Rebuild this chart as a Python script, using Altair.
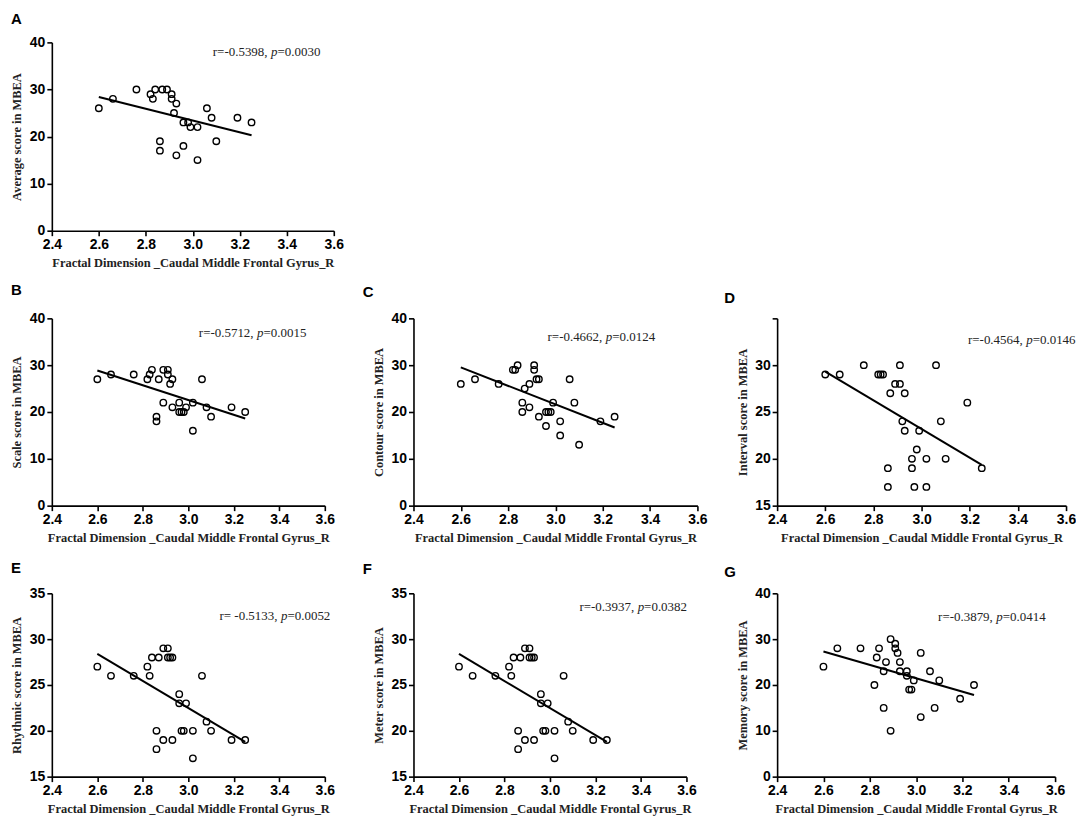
import altair as alt
import pandas as pd

XT = "Fractal Dimension _Caudal Middle Frontal Gyrus_R"
X_TICKS = [2.4, 2.6, 2.8, 3.0, 3.2, 3.4, 3.6]

# Panel A - Average score
a_x = [2.60, 2.66, 2.76, 2.82, 2.83, 2.84, 2.87, 2.89, 2.91, 2.91, 2.93, 2.92, 2.96, 2.98,
       2.99, 3.02, 3.06, 3.08, 3.10, 3.19, 3.25, 2.86, 2.86, 2.96, 2.93, 3.02]
a_y = [26, 28, 30, 29, 28, 30, 30, 30, 29, 28, 27, 25, 23, 23,
       22, 22, 26, 24, 19, 24, 23, 19, 17, 18, 16, 15]

# Panel B - Scale score
b_x = [2.60, 2.66, 2.76, 2.82, 2.83, 2.84, 2.87, 2.89, 2.91, 2.91, 2.92, 2.93, 2.89, 2.93,
       2.96, 2.96, 2.97, 2.98, 2.99, 3.02, 3.02, 3.06, 3.08, 3.10, 3.19, 3.25, 2.86, 2.86]
b_y = [27, 28, 28, 27, 28, 29, 27, 29, 29, 28, 26, 27, 22, 21,
       22, 20, 20, 20, 21, 22, 16, 27, 21, 19, 21, 20, 19, 18]

# Panel C - Contour score
c_x = [2.60, 2.66, 2.76, 2.82, 2.83, 2.84, 2.87, 2.89, 2.91, 2.91, 2.92, 2.93, 2.86, 2.86,
       2.89, 2.93, 2.96, 2.96, 2.97, 2.98, 2.99, 3.02, 3.02, 3.06, 3.08, 3.10, 3.19, 3.25]
c_y = [26, 27, 26, 29, 29, 30, 25, 26, 30, 29, 27, 27, 22, 20,
       21, 19, 17, 20, 20, 20, 22, 18, 15, 27, 22, 13, 18, 19]

# Panel D - Interval score
d_x = [2.60, 2.66, 2.76, 2.82, 2.83, 2.84, 2.86, 2.86, 2.87, 2.89, 2.91, 2.91, 2.92, 2.93,
       2.93, 2.96, 2.96, 2.97, 2.98, 2.99, 3.02, 3.02, 3.06, 3.08, 3.10, 3.19, 3.25]
d_y = [29, 29, 30, 29, 29, 29, 19, 17, 27, 28, 30, 28, 24, 27,
       23, 20, 19, 17, 21, 23, 20, 17, 30, 24, 20, 26, 19]

# Panel E - Rhythmic score
e_x = [2.60, 2.66, 2.76, 2.82, 2.83, 2.84, 2.87, 2.86, 2.86, 2.89, 2.89, 2.91, 2.91, 2.92,
       2.93, 2.93, 2.96, 2.96, 2.97, 2.98, 2.99, 3.02, 3.02, 3.06, 3.08, 3.10, 3.19, 3.25]
e_y = [27, 26, 26, 27, 26, 28, 28, 20, 18, 29, 19, 29, 28, 28,
       28, 19, 24, 23, 20, 20, 23, 20, 17, 26, 21, 20, 19, 19]

# Panel F - Meter score
f_x = [2.60, 2.66, 2.76, 2.82, 2.83, 2.84, 2.87, 2.86, 2.86, 2.89, 2.89, 2.91, 2.91, 2.92,
       2.93, 2.93, 2.96, 2.96, 2.97, 2.98, 2.99, 3.02, 3.02, 3.06, 3.08, 3.10, 3.19, 3.25]
f_y = [27, 26, 26, 27, 26, 28, 28, 20, 18, 29, 19, 29, 28, 28,
       28, 19, 24, 23, 20, 20, 23, 20, 17, 26, 21, 20, 19, 19]

# Panel G - Memory score
g_x = [2.60, 2.66, 2.76, 2.82, 2.83, 2.84, 2.86, 2.86, 2.87, 2.89, 2.89, 2.91, 2.91, 2.92,
       2.93, 2.93, 2.96, 2.96, 2.97, 2.98, 2.99, 3.02, 3.02, 3.06, 3.08, 3.10, 3.19, 3.25]
g_y = [24, 28, 28, 20, 26, 28, 23, 15, 25, 30, 10, 29, 28, 27,
       25, 23, 23, 22, 19, 19, 21, 27, 13, 23, 15, 21, 17, 20]

SERIF = "Liberation Serif"
SANS = "Liberation Sans"
FS = 13


def panel(letter, xs, ys, ytitle, ydom, yvals, r_txt, p_val, w, h, px, py,
          toff, tdx=0, hide_top=False):
    df = pd.DataFrame({"x": xs, "y": ys})
    xenc = alt.X("x:Q", scale=alt.Scale(domain=[2.4, 3.6], nice=False, zero=False),
                 axis=alt.Axis(values=X_TICKS, format=".1f", title=XT, labelFlush=False))
    yaxis_kwargs = dict(values=yvals, title=ytitle, format="d", titleX=-28)
    if hide_top:
        yaxis_kwargs["labelExpr"] = f"datum.value >= {ydom[1]} ? '' : datum.label"
    yenc = alt.Y("y:Q", scale=alt.Scale(domain=ydom, nice=False, zero=False),
                 axis=alt.Axis(**yaxis_kwargs))
    base = alt.Chart(df)
    pts = base.mark_point(shape="circle", filled=False, color="black",
                          strokeWidth=1.4, size=42, opacity=1).encode(x=xenc, y=yenc)
    line = base.transform_regression("x", "y").mark_line(
        color="black", strokeWidth=2).encode(x="x:Q", y="y:Q")
    tdf = pd.DataFrame({"r": [r_txt], "p": ["p"], "v": ["=" + p_val]})
    tb = alt.Chart(tdf)
    t1 = tb.mark_text(font=SERIF, fontSize=FS, align="right", baseline="middle",
                      color="#222").encode(text="r:N", x=alt.value(px - 3.5), y=alt.value(py))
    t2 = tb.mark_text(font=SERIF, fontSize=FS, fontStyle="italic", align="left",
                      baseline="middle", color="#222").encode(
        text="p:N", x=alt.value(px), y=alt.value(py))
    t3 = tb.mark_text(font=SERIF, fontSize=FS, align="left", baseline="middle",
                      color="#222").encode(text="v:N", x=alt.value(px + 6.5), y=alt.value(py))
    return alt.layer(line, pts, t1, t2, t3).properties(
        width=w, height=h,
        title=alt.TitleParams(letter, anchor="start", frame="bounds", font=SANS,
                              fontSize=15, fontWeight="bold", offset=toff, dx=tdx))


def blank():
    return alt.Chart(pd.DataFrame({"b": [0]})).mark_point(opacity=0).encode(
        x=alt.value(0), y=alt.value(0)).properties(width=10, height=10)


A = panel("A", a_x, a_y, "Average score in MBEA", [0, 40], [0, 10, 20, 30, 40],
          "r=-0.5398,", "0.0030", 283, 189, 220, 10, 8)
B = panel("B", b_x, b_y, "Scale score in MBEA", [0, 40], [0, 10, 20, 30, 40],
          "r=-0.5712,", "0.0015", 274, 188, 206, 15, 13)
C = panel("C", c_x, c_y, "Contour score in MBEA", [0, 40], [0, 10, 20, 30, 40],
          "r=-0.4662,", "0.0124", 285, 188, 193, 19, 11, tdx=-10)
D = panel("D", d_x, d_y, "Interval score in MBEA", [15, 35], [15, 20, 25, 30, 35],
          "r=-0.4564,", "0.0146", 290, 188, 250, 22, 12, tdx=-12, hide_top=True)
E = panel("E", e_x, e_y, "Rhythmic score in MBEA", [15, 35], [15, 20, 25, 30, 35],
          "r= -0.5133,", "0.0052", 274, 184, 230, 23, 10)
F = panel("F", f_x, f_y, "Meter score in MBEA", [15, 35], [15, 20, 25, 30, 35],
          "r=-0.3937,", "0.0382", 274, 184, 225, 14, 9, tdx=-10)
G = panel("G", g_x, g_y, "Memory score in MBEA", [0, 40], [0, 10, 20, 30, 40],
          "r=-0.3879,", "0.0414", 279, 184, 220, 24, 6, tdx=-12)

chart = alt.concat(A, blank(), blank(), B, C, D, E, F, G, columns=3,
                   spacing={"row": 88, "column": 80}, bounds="flush",
                   align="each").properties(
    padding={"left": 3, "top": 3, "right": 0, "bottom": 0}
).configure_view(stroke=None).configure_axis(
    grid=False, domainColor="black", domainWidth=1.6, tickColor="black", tickWidth=1.6,
    tickSize=5, labelFont=SANS, labelFontSize=14, labelFontWeight="bold",
    labelColor="black", labelPadding=2, titleFont=SERIF, titleFontSize=12.5,
    titleFontWeight="bold", titleColor="#222", titlePadding=5
)

chart.save("out.html", embed_options={"renderer": "svg", "actions": False})
